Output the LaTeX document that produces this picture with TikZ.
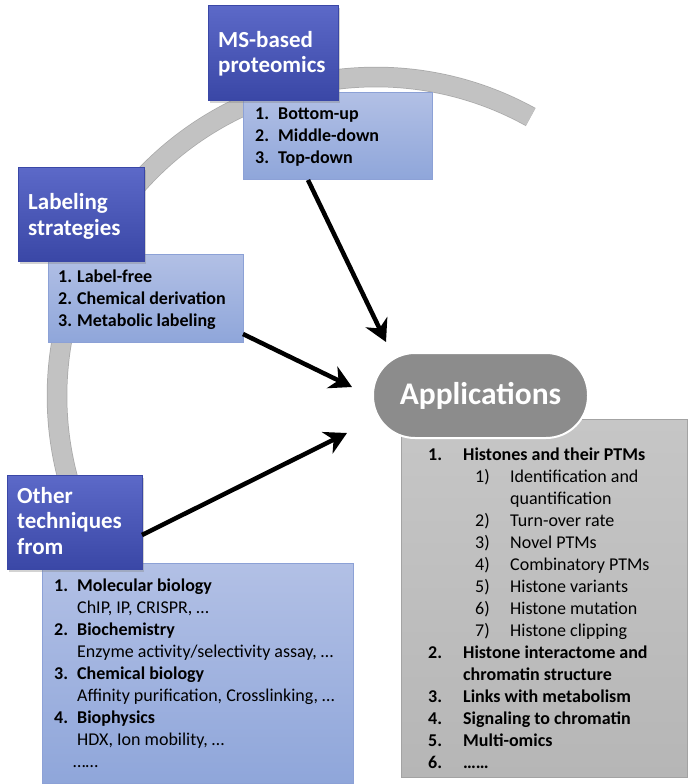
\documentclass[tikz,border=0pt]{standalone}
\usepackage{fontspec}
\setmainfont{Carlito}
\usetikzlibrary{arrows.meta,shadows}
\definecolor{dkT}{HTML}{5C69C8}
\definecolor{dkB}{HTML}{3A47A6}
\definecolor{ltT}{HTML}{B2C0E5}
\definecolor{ltB}{HTML}{8FA6DA}
\definecolor{ltE}{HTML}{8CA1D6}
\definecolor{arcF}{HTML}{C2C2C2}
\definecolor{arcE}{HTML}{A9A9A9}
\definecolor{grT}{HTML}{C6C6C6}
\definecolor{grB}{HTML}{B6B6B6}
\definecolor{grE}{HTML}{A3A3A3}
\definecolor{pill}{HTML}{8C8C8C}
\begin{document}
\begin{tikzpicture}[x=1pt,y=-1pt,
  darkbox/.style={inner sep=0pt, anchor=north west, top color=dkT, bottom color=dkB, draw=dkB, line width=0.6pt,
    drop shadow={opacity=0.35, shadow xshift=2pt, shadow yshift=-2.5pt}},
  lightbox/.style={inner sep=0pt, anchor=north west, top color=ltT, bottom color=ltB, draw=ltE, line width=0.8pt},
  graybox/.style={inner sep=0pt, anchor=north west, top color=grT, bottom color=grB, draw=grE, line width=0.8pt},
  hdr/.style={anchor=west, inner sep=0pt, text=white, font=\fontsize{23}{25.5}\selectfont\bfseries},
  lst/.style={anchor=west, inner sep=0pt, font=\fontsize{18}{22}\selectfont},
  lstb/.style={anchor=west, inner sep=0pt, font=\fontsize{18}{22}\selectfont\bfseries},
  arr/.style={line width=4.5pt, -{Stealth[length=22pt,width=24pt,inset=7pt]}}
]
\useasboundingbox (0,0) rectangle (688,784);

% gray arc
\draw[line width=20.5pt, arcE] plot[domain=-200:-61, samples=120, smooth] ({376+319*cos(\x)},{396+319*sin(\x)});
\draw[line width=19pt, arcF] plot[domain=-200:-61, samples=120, smooth] ({376+319*cos(\x)},{396+319*sin(\x)});

% MS-based proteomics
\node[lightbox, minimum width=189pt, minimum height=87pt] (msl) at (243,92) {};
\node[darkbox, minimum width=130pt, minimum height=95pt] (msh) at (208,5) {};
\node[hdr] (msht) at (218,55) {\begin{tabular}{@{}l@{}}MS-based\\proteomics\end{tabular}};
\node[lstb] (mslt) at (255,137) {\begin{tabular}{@{}l@{}}
\makebox[23pt][l]{1.}Bottom-up\\
\makebox[23pt][l]{2.}Middle-down\\
\makebox[23pt][l]{3.}Top-down
\end{tabular}};

% Labeling strategies
\node[lightbox, minimum width=195pt, minimum height=88pt] (lbl) at (48,254) {};
\node[darkbox, minimum width=126pt, minimum height=94pt] (lbh) at (18,167) {};
\node[hdr] (lbht) at (28,217.5) {\begin{tabular}{@{}l@{}}Labeling\\strategies\end{tabular}};
\node[lstb] (lblt) at (58,300) {\begin{tabular}{@{}l@{}}
\makebox[19pt][l]{1.}Label-free\\
\makebox[19pt][l]{2.}Chemical derivation\\
\makebox[19pt][l]{3.}Metabolic labeling
\end{tabular}};

% Other techniques
\node[lightbox, minimum width=311pt, minimum height=220pt] (otl) at (42,563) {};
\node[darkbox, minimum width=135pt, minimum height=94pt] (oth) at (7,475) {};
\node[hdr] (otht) at (17,523.5) {\begin{tabular}{@{}l@{}}Other\\techniques\\from\end{tabular}};
\node[lst] (otlt) at (54,675) {\begin{tabular}{@{}l@{}}
\makebox[23pt][l]{\bfseries 1.}\textbf{Molecular biology}\\
\hspace{23pt}ChIP, IP, CRISPR, …\\
\makebox[23pt][l]{\bfseries 2.}\textbf{Biochemistry}\\
\hspace{23pt}Enzyme activity/selectivity assay, …\\
\makebox[23pt][l]{\bfseries 3.}\textbf{Chemical biology}\\
\hspace{23pt}Affinity purification, Crosslinking, …\\
\makebox[23pt][l]{\bfseries 4.}\textbf{Biophysics}\\
\hspace{23pt}HDX, Ion mobility, …\\
\hspace{19pt}……
\end{tabular}};

% Applications
\node[graybox, minimum width=286pt, minimum height=358pt] (apl) at (401,419) {};
\node[inner sep=0pt, fill=pill, draw=white, line width=2pt, rounded corners=42pt,
  minimum width=215pt, minimum height=85pt, text=white, font=\fontsize{31.5}{36}\selectfont\bfseries] (app) at (480.5,395.5) {Applications};
\node[lst] (aplt) at (428,610) {\begin{tabular}{@{}l@{}}
\makebox[35pt][l]{\bfseries 1.}\textbf{Histones and their PTMs}\\
\hspace{47pt}\makebox[35pt][l]{1)}Identification and\\
\hspace{82pt}quantification\\
\hspace{47pt}\makebox[35pt][l]{2)}Turn-over rate\\
\hspace{47pt}\makebox[35pt][l]{3)}Novel PTMs\\
\hspace{47pt}\makebox[35pt][l]{4)}Combinatory PTMs\\
\hspace{47pt}\makebox[35pt][l]{5)}Histone variants\\
\hspace{47pt}\makebox[35pt][l]{6)}Histone mutation\\
\hspace{47pt}\makebox[35pt][l]{7)}Histone clipping\\
\makebox[35pt][l]{\bfseries 2.}\textbf{Histone interactome and}\\
\hspace{35pt}\textbf{chromatin structure}\\
\makebox[35pt][l]{\bfseries 3.}\textbf{Links with metabolism}\\
\makebox[35pt][l]{\bfseries 4.}\textbf{Signaling to chromatin}\\
\makebox[35pt][l]{\bfseries 5.}\textbf{Multi-omics}\\
\makebox[35pt][l]{\bfseries 6.}\textbf{……}
\end{tabular}};

% arrows
\coordinate (s1) at (308,180);
\coordinate (t1) at (386,342);
\coordinate (s2) at (243,334);
\coordinate (t2) at (352,387);
\coordinate (s3) at (142,535);
\coordinate (t3) at (347,433);
\draw[arr] (s1) -- (t1);
\draw[arr] (s2) -- (t2);
\draw[arr] (s3) -- (t3);
\end{tikzpicture}
\end{document}
